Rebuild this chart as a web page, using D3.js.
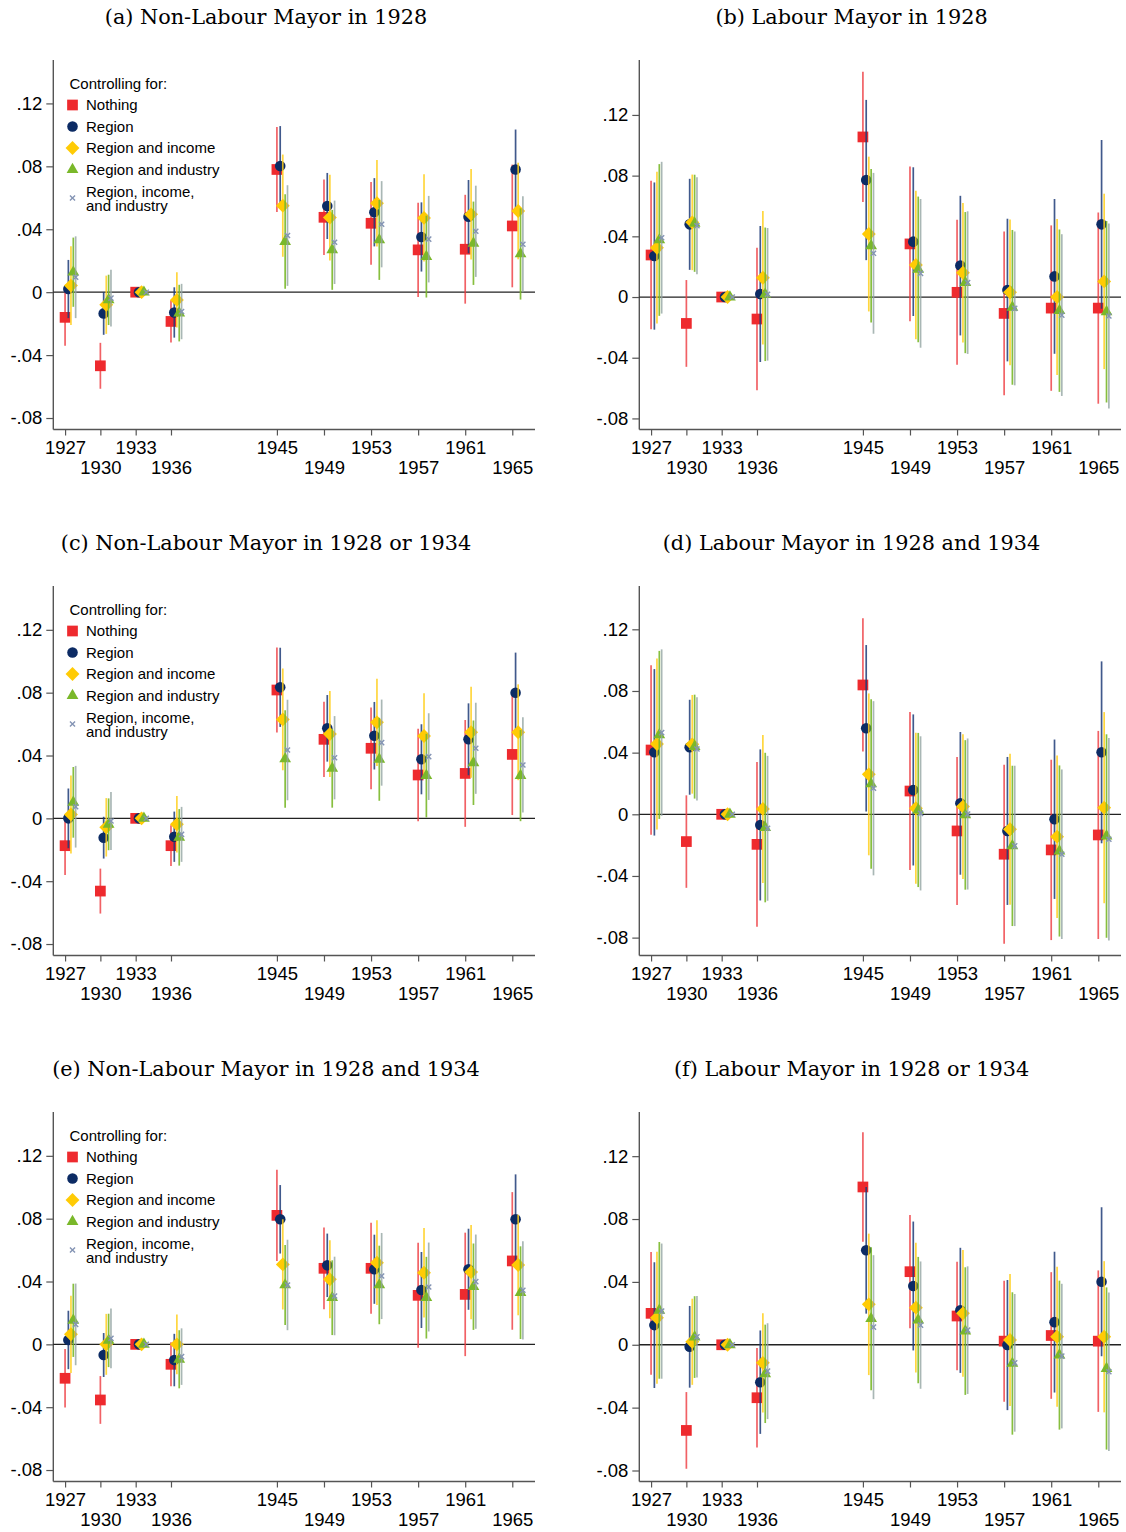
<!DOCTYPE html>
<html><head><meta charset="utf-8">
<script src="https://cdn.jsdelivr.net/npm/d3@7"></script>
<style>body{margin:0;background:#fff}</style>
</head><body>
<svg id="chart" width="1126" height="1532" xmlns="http://www.w3.org/2000/svg"></svg>
<script>
// ---------------- DATA ----------------
const years = [1927, 1930, 1933, 1936, 1945, 1949, 1953, 1957, 1961, 1965];
const upperRowYears = [1927, 1933, 1945, 1953, 1961];
const seriesNames = ["Nothing", "Region", "Region and income", "Region and industry", "Region, income,|and industry"];
const legendTitle = "Controlling for:";
const panelTitles = [
  "(a) Non-Labour Mayor in 1928", "(b) Labour Mayor in 1928",
  "(c) Non-Labour Mayor in 1928 or 1934", "(d) Labour Mayor in 1928 and 1934",
  "(e) Non-Labour Mayor in 1928 and 1934", "(f) Labour Mayor in 1928 or 1934"
];
const yTickValues = [-0.08, -0.04, 0, 0.04, 0.08, 0.12];
const yTickLabels = ["-.08", "-.04", "0", ".04", ".08", ".12"];

// point estimates (rows = series, cols = years)
const est_a = [
  [-0.016, -0.0468, 0, -0.0186, 0.078, 0.0476, 0.0438, 0.0269, 0.0273, 0.0421],
  [0.002, -0.0135, 0, -0.0129, 0.0802, 0.0548, 0.0508, 0.0351, 0.048, 0.078],
  [0.0042, -0.008, 0, -0.0049, 0.055, 0.0474, 0.0565, 0.0472, 0.0495, 0.0516],
  [0.0127, -0.0049, 0, -0.0133, 0.0322, 0.0269, 0.0332, 0.0226, 0.0311, 0.0243],
  [0.0095, -0.0038, 0, -0.0123, 0.036, 0.0317, 0.0432, 0.0337, 0.0387, 0.0305]
];
// half-width of 95% confidence intervals
const ci_a = [
  [0.018, 0.0146, 0, 0.0134, 0.027, 0.024, 0.0263, 0.030, 0.0346, 0.039],
  [0.0185, 0.0136, 0, 0.016, 0.0254, 0.021, 0.0217, 0.022, 0.0233, 0.0254],
  [0.025, 0.0185, 0, 0.0176, 0.0325, 0.0272, 0.0275, 0.0277, 0.0288, 0.0307],
  [0.022, 0.016, 0, 0.018, 0.030, 0.0254, 0.0254, 0.026, 0.0265, 0.029],
  [0.026, 0.018, 0, 0.0176, 0.032, 0.0265, 0.0274, 0.0275, 0.029, 0.0305]
];
const est_b = [
  [0.0277, -0.0174, 0, -0.0145, 0.1055, 0.035, 0.0031, -0.0108, -0.0073, -0.0073],
  [0.027, 0.0479, 0, 0.002, 0.0771, 0.0365, 0.0207, 0.0046, 0.0136, 0.0479],
  [0.0325, 0.0492, 0, 0.0127, 0.0415, 0.0211, 0.016, 0.0031, 0, 0.0103],
  [0.0376, 0.0486, 0, 0.0018, 0.0338, 0.0182, 0.0095, -0.0068, -0.009, -0.0097],
  [0.0391, 0.047, 0, 0.0018, 0.0288, 0.0156, 0.0095, -0.0075, -0.0119, -0.0125]
];
const ci_b = [
  [0.049, 0.0286, 0, 0.047, 0.0429, 0.051, 0.0478, 0.054, 0.0545, 0.063],
  [0.0485, 0.030, 0, 0.0448, 0.0528, 0.049, 0.046, 0.047, 0.051, 0.0556],
  [0.050, 0.0315, 0, 0.044, 0.051, 0.049, 0.046, 0.048, 0.0514, 0.0578],
  [0.050, 0.032, 0, 0.044, 0.0506, 0.048, 0.0465, 0.051, 0.0535, 0.0598],
  [0.050, 0.032, 0, 0.0437, 0.053, 0.049, 0.047, 0.0507, 0.0533, 0.061]
];
const est_c = [
  [-0.0174, -0.0463, 0, -0.0174, 0.0817, 0.0503, 0.0446, 0.0276, 0.0286, 0.0407],
  [0, -0.0123, 0, -0.0117, 0.0834, 0.0573, 0.0526, 0.0376, 0.0503, 0.08],
  [0.0025, -0.0057, 0, -0.0038, 0.063, 0.0537, 0.0611, 0.0524, 0.0548, 0.0548],
  [0.0102, -0.0038, 0, -0.0121, 0.0378, 0.0318, 0.0376, 0.0272, 0.0354, 0.0272],
  [0.0074, -0.0017, 0, -0.0102, 0.0435, 0.0386, 0.0482, 0.0393, 0.0446, 0.034]
];
const ci_c = [
  [0.0186, 0.0143, 0, 0.013, 0.027, 0.0239, 0.026, 0.0294, 0.034, 0.0386],
  [0.019, 0.0133, 0, 0.016, 0.0252, 0.0212, 0.0215, 0.0223, 0.0229, 0.0255],
  [0.0248, 0.0186, 0, 0.018, 0.0324, 0.0273, 0.0277, 0.0272, 0.029, 0.0305],
  [0.0225, 0.0165, 0, 0.018, 0.031, 0.025, 0.0264, 0.0266, 0.0269, 0.029],
  [0.026, 0.0185, 0, 0.0175, 0.032, 0.0265, 0.0274, 0.0276, 0.029, 0.0303]
];
const est_d = [
  [0.0417, -0.0177, 0, -0.0195, 0.0839, 0.0151, -0.0108, -0.0259, -0.0231, -0.0134],
  [0.0402, 0.0435, 0, -0.0069, 0.0558, 0.0158, 0.0071, -0.0108, -0.0032, 0.0402],
  [0.0456, 0.0454, 0, 0.0035, 0.0259, 0.0039, 0.005, -0.0097, -0.0145, 0.0043],
  [0.0515, 0.0439, 0, -0.0086, 0.0197, 0.0028, -0.0004, -0.0205, -0.0238, -0.0141],
  [0.053, 0.0424, 0, -0.0091, 0.0169, 0.0006, 0.0002, -0.0205, -0.0259, -0.0162]
];
const ci_d = [
  [0.055, 0.030, 0, 0.0535, 0.0432, 0.0513, 0.048, 0.058, 0.0585, 0.0675],
  [0.054, 0.0308, 0, 0.049, 0.054, 0.049, 0.0463, 0.048, 0.0517, 0.059],
  [0.0555, 0.032, 0, 0.048, 0.0525, 0.049, 0.047, 0.049, 0.0527, 0.062],
  [0.0545, 0.0337, 0, 0.0485, 0.055, 0.050, 0.0485, 0.052, 0.0555, 0.066],
  [0.054, 0.0335, 0, 0.047, 0.0565, 0.050, 0.049, 0.052, 0.055, 0.0657]
];
const est_e = [
  [-0.0216, -0.0354, 0, -0.0127, 0.0821, 0.0484, 0.0484, 0.0312, 0.0318, 0.0531],
  [0.0028, -0.0068, 0, -0.01, 0.0796, 0.0503, 0.0478, 0.0346, 0.0478, 0.0796],
  [0.0064, 0, 0, 0, 0.0509, 0.0414, 0.052, 0.0456, 0.046, 0.0505],
  [0.0153, 0.0025, 0, -0.0095, 0.0378, 0.0297, 0.0378, 0.0297, 0.0367, 0.0329],
  [0.0127, 0.0038, 0, -0.0078, 0.0378, 0.0308, 0.0435, 0.0365, 0.0399, 0.0344]
];
const ci_e = [
  [0.0186, 0.0152, 0, 0.014, 0.029, 0.026, 0.029, 0.0334, 0.0393, 0.0438],
  [0.0186, 0.014, 0, 0.0167, 0.0218, 0.0202, 0.022, 0.0242, 0.0258, 0.0286],
  [0.0246, 0.0194, 0, 0.019, 0.0287, 0.0248, 0.027, 0.0285, 0.030, 0.032],
  [0.0233, 0.017, 0, 0.0185, 0.0255, 0.0238, 0.025, 0.026, 0.0275, 0.0295],
  [0.026, 0.019, 0, 0.018, 0.0288, 0.025, 0.0274, 0.0283, 0.030, 0.0313]
];
const est_f = [
  [0.02, -0.0545, 0, -0.0337, 0.1004, 0.0465, 0.0183, 0.0023, 0.0059, 0.0023],
  [0.0125, -0.0013, 0, -0.0238, 0.0601, 0.0374, 0.0219, -0.0002, 0.0144, 0.0401],
  [0.0172, 0.0019, 0, -0.0115, 0.0257, 0.0236, 0.02, 0.003, 0.0051, 0.0051],
  [0.0219, 0.0049, 0, -0.0185, 0.0166, 0.0157, 0.0087, -0.0119, -0.0066, -0.0151],
  [0.0214, 0.0051, 0, -0.0168, 0.0112, 0.0125, 0.0093, -0.0115, -0.0072, -0.0172]
];
const ci_f = [
  [0.039, 0.0244, 0, 0.0316, 0.0348, 0.036, 0.0345, 0.0385, 0.0403, 0.045],
  [0.040, 0.026, 0, 0.0329, 0.0403, 0.041, 0.0398, 0.0414, 0.0448, 0.0474],
  [0.042, 0.0274, 0, 0.0316, 0.045, 0.0413, 0.0403, 0.042, 0.0445, 0.0481],
  [0.0435, 0.026, 0, 0.0313, 0.0455, 0.0402, 0.0406, 0.0453, 0.0474, 0.0516],
  [0.043, 0.026, 0, 0.0305, 0.0458, 0.0405, 0.0406, 0.0438, 0.046, 0.0504]
];

// per-panel y-axis domains
const yDomains = [
  [-0.0873, 0.1476], [-0.0873, 0.1562],
  [-0.0873, 0.1479], [-0.0916, 0.1481],
  [-0.0873, 0.1479], [-0.0870, 0.1481]
];

// ---------------- STYLE / LAYOUT ----------------
const panelsEst = [est_a, est_b, est_c, est_d, est_e, est_f];
const panelsCi = [ci_a, ci_b, ci_c, ci_d, ci_e, ci_f];
const xDomain = [1926, 1966.93];
const colRanges = [[53.3, 535], [639.3, 1121]];
const titleCenters = [266, 851.5];
const rowOffsets = [0, 526, 1052];
const plotTop = 60, plotBottom = 429.5;
const seriesOffsets = [0, 0.28, 0.5, 0.7, 0.9];
const markerColors = ["#ee2a2e", "#0c2b64", "#ffcb05", "#7ab82a", "#8494b4"];
const ciColors = ["#ee3a3e", "#1e3c78", "#ffcf1c", "#7ab82a", "#93a5a2"];
const ciOpacity = [0.8, 0.85, 0.85, 0.9, 0.8];
const markerTypes = ["square", "circle", "diamond", "triangle", "x"];
const tickFont = "'Liberation Sans', Arial, sans-serif";

const svg = d3.select("#chart");
svg.append("rect").attr("width", 1126).attr("height", 1532).attr("fill", "#fff");

const diamondType = { draw(ctx, size) { const h = Math.sqrt(size / 2); ctx.moveTo(0, -h); ctx.lineTo(h, 0); ctx.lineTo(0, h); ctx.lineTo(-h, 0); ctx.closePath(); } };
const xType = { draw(ctx, size) { const r = Math.sqrt(size) / 2; ctx.moveTo(-r, -r); ctx.lineTo(r, r); ctx.moveTo(r, -r); ctx.lineTo(-r, r); } };

function drawMarker(g, type, color, x, y) {
  let p;
  if (type === "square") p = d3.symbol(d3.symbolSquare, 115)();
  else if (type === "circle") p = d3.symbol(d3.symbolCircle, 88)();
  else if (type === "diamond") p = d3.symbol(diamondType, 96)();
  else if (type === "triangle") p = d3.symbol(d3.symbolTriangle, 60)();
  else p = d3.symbol(xType, 26)();
  const el = g.append("path").attr("d", p).attr("transform", `translate(${x},${y})`);
  if (type === "x") el.attr("fill", "none").attr("stroke", color).attr("stroke-width", 1.4);
  else el.attr("fill", color);
}

panelTitles.forEach((title, pi) => {
  const col = pi % 2, row = Math.floor(pi / 2);
  const off = rowOffsets[row];
  const x = d3.scaleLinear().domain(xDomain).range(colRanges[col]);
  const y = d3.scaleLinear().domain(yDomains[pi]).range([plotBottom + off, plotTop + off]);
  const g = svg.append("g");

  // title
  g.append("text").attr("x", titleCenters[col])
    .attr("y", 24 + off).attr("text-anchor", "middle")
    .attr("font-family", "'DejaVu Serif', serif").attr("font-size", 20.8)
    .attr("fill", "#000").text(title);

  // y axis
  const yAxis = d3.axisLeft(y).tickValues(yTickValues).tickSize(7).tickPadding(4)
    .tickFormat((d, i) => yTickLabels[i]);
  const ya = g.append("g").attr("transform", `translate(${colRanges[col][0]},0)`).call(yAxis);
  ya.select(".domain").attr("d", `M-0,${plotTop + off}V${plotBottom + off}`).attr("stroke", "#555").attr("stroke-width", 1.4);
  ya.selectAll(".tick line").attr("stroke", "#555").attr("stroke-width", 1.2);
  ya.selectAll(".tick text").attr("font-family", tickFont).attr("font-size", 18.5).attr("fill", "#000");

  // x axis
  const xAxis = d3.axisBottom(x).tickValues(years).tickSize(6).tickFormat(d3.format("d"));
  const xa = g.append("g").attr("transform", `translate(0,${plotBottom + off})`).call(xAxis);
  xa.select(".domain").attr("d", `M${colRanges[col][0]},0H${colRanges[col][1]}`).attr("stroke", "#555").attr("stroke-width", 1.4);
  xa.selectAll(".tick line").attr("stroke", "#555").attr("stroke-width", 1.2);
  xa.selectAll(".tick text").attr("font-family", tickFont).attr("font-size", 18.5).attr("fill", "#000")
    .attr("y", d => upperRowYears.includes(d) ? 11 : 31).attr("dy", "0.71em");

  // zero line
  g.append("line").attr("x1", colRanges[col][0]).attr("x2", colRanges[col][1])
    .attr("y1", y(0)).attr("y2", y(0)).attr("stroke", "#222").attr("stroke-width", 1.3);

  // series
  const est = panelsEst[pi], ci = panelsCi[pi];
  est.forEach((vals, si) => {
    const sg = g.append("g");
    vals.forEach((v, yi) => {
      const xx = x(years[yi] + seriesOffsets[si]);
      if (ci[si][yi] > 0) {
        sg.append("line").attr("x1", xx).attr("x2", xx)
          .attr("y1", y(v - ci[si][yi])).attr("y2", y(v + ci[si][yi]))
          .attr("stroke", ciColors[si]).attr("stroke-opacity", ciOpacity[si]).attr("stroke-width", 1.7);
      }
    });
    vals.forEach((v, yi) => {
      drawMarker(sg, markerTypes[si], markerColors[si], x(years[yi] + seriesOffsets[si]), y(v));
    });
  });

  // legend (left column panels only)
  if (col === 0) {
    const lg = g.append("g").attr("font-family", tickFont).attr("font-size", 15).attr("fill", "#000");
    lg.append("text").attr("x", 69.5).attr("y", 84 + off).attr("dy", "0.35em").text(legendTitle);
    const rowsY = [105, 126.5, 148, 169.5, 198];
    seriesNames.forEach((name, si) => {
      const ly = rowsY[si] + off;
      drawMarker(lg, markerTypes[si], markerColors[si], 72.5, ly);
      const parts = name.split("|");
      if (parts.length === 1) {
        lg.append("text").attr("x", 86).attr("y", ly).attr("dy", "0.35em").text(parts[0]);
      } else {
        lg.append("text").attr("x", 86).attr("y", ly - 6.5).attr("dy", "0.35em").text(parts[0]);
        lg.append("text").attr("x", 86).attr("y", ly + 8).attr("dy", "0.35em").text(parts[1]);
      }
    });
  }
});
</script>
</body></html>
